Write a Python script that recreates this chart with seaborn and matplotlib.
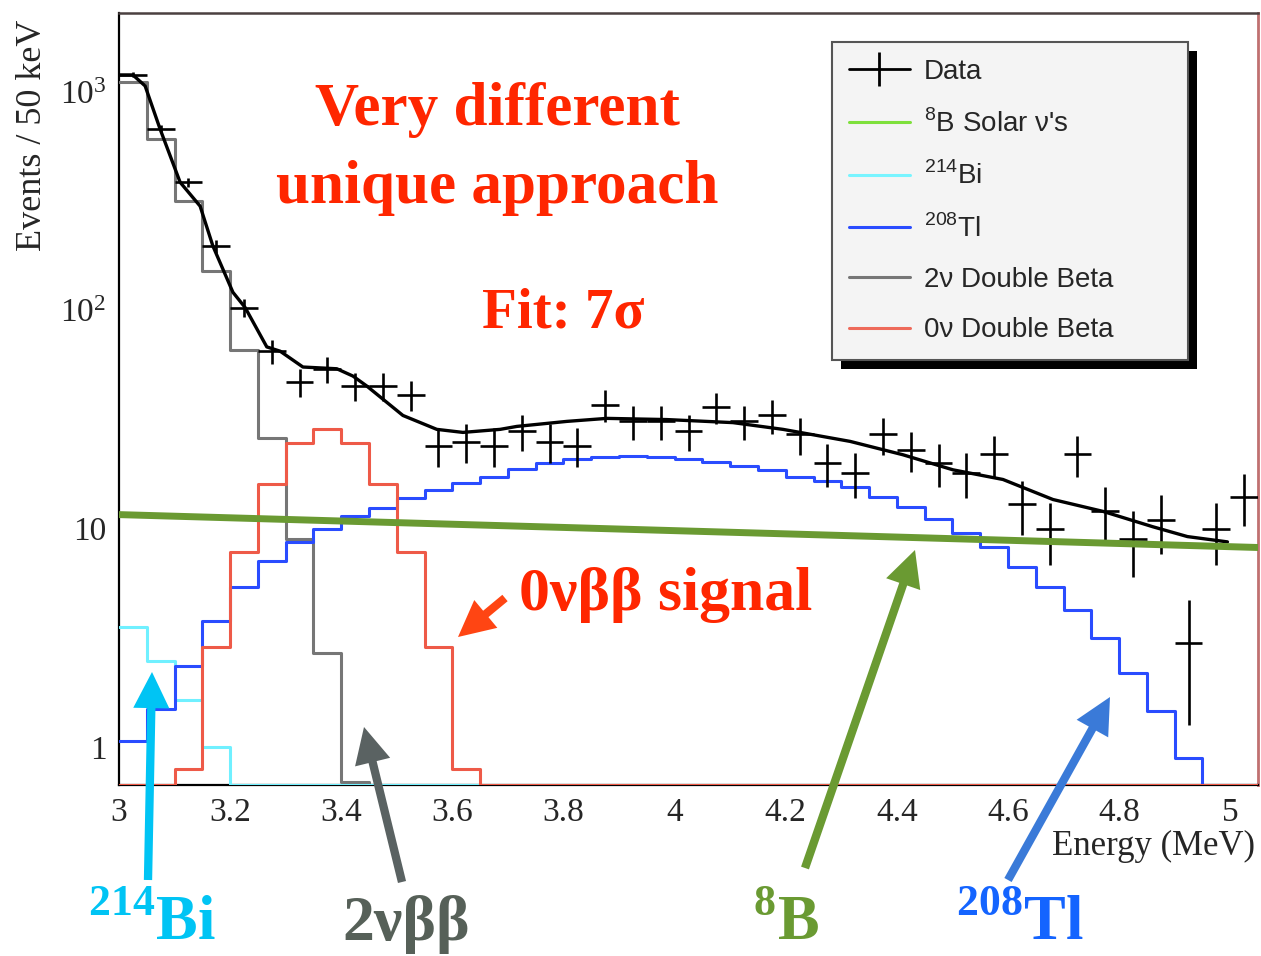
import numpy as np
import matplotlib
matplotlib.use("Agg")
import matplotlib.pyplot as plt
import seaborn as sns
from matplotlib.lines import Line2D
from matplotlib.patches import Rectangle
from matplotlib.ticker import MultipleLocator, LogLocator, NullFormatter

# 50 keV bins from 3.00 to 5.05 MeV
bin_edges = np.round(np.arange(3.0, 5.0501, 0.05), 3)
bin_centers = bin_edges[:-1] + 0.025

data_counts = [1200, 680, 385, 197, 103, 65, 47, 54, 45, 45,
               41, 24, 25, 24, 28, 25, 24, 37, 31, 31,
               28, 36, 31, 33, 27, 20, 18, 27, 23, 20,
               18, 22, 13, 10, 22, 12, 9, 11, 3, 10, 14]

tl208 = [1.07, 1.49, 2.35, 3.78, 5.42, 7.1, 8.7, 10.0, 11.4, 12.5,
         13.8, 15.0, 16.2, 17.3, 18.8, 20.0, 20.9, 21.4, 21.5, 21.4,
         20.9, 20.3, 19.4, 18.6, 17.3, 16.5, 15.6, 14.0, 12.6, 11.1,
         9.6, 8.2, 6.7, 5.4, 4.25, 3.16, 2.18, 1.46, 0.89, 0, 0]

bb0nu = [0, 0, 0.79, 2.88, 7.8, 16.1, 24.8, 28.5, 24.8, 16.1,
         7.8, 2.88, 0.79] + [0] * 28

bb2nu = [1110, 609, 316, 151, 66, 26, 9.0, 2.7, 0.69] + [0] * 32

bi214 = [3.55, 2.48, 1.64, 1.0] + [0] * 37

fit_energy = [3.00, 3.025, 3.047, 3.074, 3.110, 3.146, 3.169, 3.205, 3.227, 3.266,
              3.290, 3.331, 3.392, 3.421, 3.446, 3.511, 3.572, 3.619, 3.686, 3.716,
              3.806, 3.878, 3.986, 4.105, 4.195, 4.316, 4.411, 4.501, 4.591, 4.681,
              4.771, 4.861, 4.923, 4.995]
fit_counts = [1197, 1197, 1066, 676, 386, 300, 197, 121, 103, 68,
              65, 55, 54, 50, 45, 33, 28.5, 27.6, 28.5, 29.4,
              31, 32, 31.6, 30.6, 28.5, 25.1, 21.8, 18.6, 16.8, 13.6,
              12.0, 10.2, 9.2, 8.7]

b8_energy = [3.0, 5.05]
b8_counts = [11.6, 8.2]

W, H = 1261, 956
YLO, YHI = 0.67, 2300

sns.set_style("white")
plt.rcParams['font.family'] = ['Liberation Serif', 'DejaVu Serif']
plt.rcParams['mathtext.fontset'] = 'custom'
plt.rcParams['mathtext.rm'] = 'Liberation Serif'
plt.rcParams['mathtext.bf'] = 'Liberation Serif:bold'
plt.rcParams['mathtext.sf'] = 'Liberation Sans'

fig = plt.figure(figsize=(W / 100, H / 100), dpi=100)
ax = fig.add_axes([119 / W, 1 - 785 / H, (1258 - 119) / W, (785 - 13) / H])


def step(counts, color, lw=2.2, z=3):
    # ROOT draws empty bins along the bottom of the frame
    y = np.maximum(np.asarray(counts, float), YLO * 1.004)
    y = np.append(y, y[-1])
    sns.lineplot(x=bin_edges, y=y, drawstyle='steps-post', color=color, lw=lw,
                 ax=ax, estimator=None, sort=False, zorder=z)


step(bb2nu, '#767676', z=3)
step(bi214, '#70f0ff', z=3.1)
step(tl208, '#2a4cff', z=3.2)
step(bb0nu, '#ee5a48', z=3.3)

sns.lineplot(x=fit_energy, y=fit_counts, color='black', lw=2.4, ax=ax,
             estimator=None, sort=False, zorder=5)

dc = np.array(data_counts, float)
ax.errorbar(bin_centers, dc, xerr=0.025, yerr=np.sqrt(dc), fmt='none',
            ecolor='black', elinewidth=1.9, capsize=0, zorder=6)

sns.lineplot(x=b8_energy, y=b8_counts, color='#6a9a32', lw=5, ax=ax,
             estimator=None, sort=False, zorder=7)

ax.set_yscale('log')
ax.set_xlim(3.0, 5.05)
ax.set_ylim(YLO, YHI)

ax.xaxis.set_minor_locator(MultipleLocator(0.05))
ax.set_xticks([3.0, 3.2, 3.4, 3.6, 3.8, 4.0, 4.2, 4.4, 4.6, 4.8, 5.0])
ax.set_xticklabels(['3', '3.2', '3.4', '3.6', '3.8', '4', '4.2', '4.4', '4.6', '4.8', '5'])
ax.set_yticks([1, 10, 100, 1000])
ax.set_yticklabels(['1', '10', r'$\mathregular{10^{2}}$', r'$\mathregular{10^{3}}$'])
ax.yaxis.set_minor_locator(LogLocator(base=10, subs=np.arange(2, 10)))
ax.yaxis.set_minor_formatter(NullFormatter())

ax.tick_params(axis='x', which='major', direction='in', length=16, width=1.2,
               labelsize=24, pad=9, top=False)
ax.tick_params(axis='x', which='minor', direction='in', length=7, width=1.0, top=False)
ax.tick_params(axis='y', which='major', direction='in', length=23, width=1.2,
               labelsize=24, pad=9, right=False)
ax.tick_params(axis='y', which='minor', direction='in', length=11, width=1.0, right=False)
for lab in ax.get_yticklabels():
    lab.set_y(lab.get_position()[1])

for side in ['left', 'bottom']:
    ax.spines[side].set_color('black')
    ax.spines[side].set_linewidth(1.6)
ax.spines['top'].set_color('#4a4040')
ax.spines['top'].set_linewidth(1.8)
ax.spines['right'].set_color('#c07070')
ax.spines['right'].set_linewidth(2.0)

fig.text(1255 / W, 1 - 855 / H, 'Energy (MeV)', ha='right', va='baseline', fontsize=25)
fig.text(33 / W, 1 - 20 / H, 'Events / 50 keV', rotation=90, ha='center', va='top',
         fontsize=26)

# legend
handles = [
    Line2D([], [], color='black', lw=2, marker='|', markersize=24, markeredgewidth=2),
    Line2D([], [], color='#7ee03c', lw=2.2),
    Line2D([], [], color='#78f4ff', lw=2.2),
    Line2D([], [], color='#2a4cff', lw=2.2),
    Line2D([], [], color='#767676', lw=2.2),
    Line2D([], [], color='#ee6a5a', lw=2.2),
]
labels = ['Data', r"$^{\mathsf{8}}$B Solar ν's", r'$^{\mathsf{214}}$Bi', r'$^{\mathsf{208}}$Tl',
          '2ν Double Beta', '0ν Double Beta']
leg = ax.legend(handles, labels, loc='upper left', bbox_to_anchor=(0.626, 0.962, 0.3126, 0.0),
                mode='expand', borderaxespad=0, prop={'family': 'Liberation Sans', 'size': 20},
                handlelength=2.2, handletextpad=0.5, labelspacing=0.87, borderpad=0.6,
                fancybox=False, framealpha=1, facecolor='#f4f4f4', edgecolor='#555555')
leg.get_frame().set_linewidth(1.5)
leg.set_zorder(20)

fig.canvas.draw()
bb = leg.get_window_extent()
shadow = Rectangle((bb.x0 + 9, bb.y0 - 9), bb.width, bb.height, transform=None,
                   facecolor='black', edgecolor='none', zorder=19, clip_on=False)
ax.add_artist(shadow)

# annotations
red = '#ff2600'


def ftext(x, y, s, **kw):
    fig.text(x / W, 1 - y / H, s, fontweight='bold', **kw)


ftext(497, 125, 'Very different', color=red, fontsize=44, ha='center', va='baseline')
ftext(497, 203, 'unique approach', color=red, fontsize=44, ha='center', va='baseline')
ftext(563, 328, 'Fit: 7σ', color=red, fontsize=41, ha='center', va='baseline')
ftext(519, 610, '0νββ signal', color=red, fontsize=44.5, ha='left', va='baseline')

ftext(88, 940, r'$^{\mathbf{214}}$Bi', color='#00c4f4', fontsize=45, ha='left', va='baseline')
ftext(342, 940, '2νββ', color='#566058', fontsize=46, ha='left', va='baseline')
ftext(753, 940, r'$^{\mathbf{8}}$B', color='#6a9a32', fontsize=45, ha='left', va='baseline')
ftext(956, 940, r'$^{\mathbf{208}}$Tl', color='#1464ff', fontsize=45, ha='left', va='baseline')


def farrow(tail, tip, color):
    ax.annotate('', xy=(tip[0], H - tip[1]), xytext=(tail[0], H - tail[1]),
                xycoords='figure pixels', textcoords='figure pixels',
                annotation_clip=False, zorder=25,
                arrowprops=dict(arrowstyle='simple,head_length=1.0,head_width=1.0,tail_width=0.23',
                                mutation_scale=26, color=color, lw=0, shrinkA=0, shrinkB=0))


farrow((148, 880), (152, 672), '#00c4f4')
farrow((402, 882), (364, 727), '#5a6262')
farrow((805, 868), (915, 550), '#6a9a32')
farrow((1008, 880), (1110, 697), '#3a7ad8')
farrow((505, 598), (458, 637), '#ff4513')

fig.savefig('out.png', dpi=100)
